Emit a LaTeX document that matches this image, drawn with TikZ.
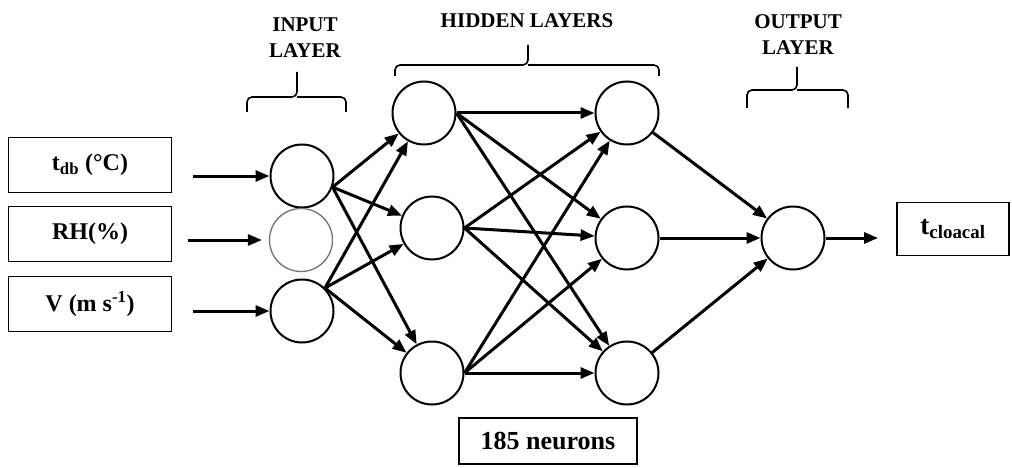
\documentclass[tikz,border=0pt]{standalone}
\usepackage{fontspec}
\setmainfont{Liberation Serif}
\usetikzlibrary{arrows.meta}
\tikzset{
  >={Triangle[length=14pt,width=11pt]},
  neuron/.style={circle,draw=#1,line width=2pt,minimum size=63pt,inner sep=0pt},
  neuron/.default=black,
  varbox/.style={draw,line width=1.8pt,minimum width=#1,minimum height=55pt,
    font=\bfseries\fontsize{24}{27}\selectfont},
  varbox/.default=163pt,
  link/.style={->,line width=3pt},
  brace/.style={line width=1.6pt,rounded corners=5pt},
  tag/.style={font=\bfseries\fontsize{21}{26}\selectfont,align=center},
}
\begin{document}
\begin{tikzpicture}[x=1pt,y=-1pt]
  \useasboundingbox (0,0) rectangle (1012,468);
  % inputs
  \node[varbox] (tdb) at (90,165) {t\textsubscript{db} (°C)};
  \node[varbox] (rh) at (90,234) {RH(\%)};
  \node[varbox] (vel) at (90,304) {V (m s\textsuperscript{-1})};
  \coordinate (s1) at (193,176);
  \coordinate (s2) at (188,240);
  \coordinate (s3) at (193,311);
  % neurons
  \node[neuron] (in1) at (302,176) {};
  \node[neuron=black!55,line width=1.3pt] (in2) at (301,240) {};
  \node[neuron] (in3) at (302,311) {};
  \node[neuron] (ha1) at (424,113) {};
  \node[neuron] (ha2) at (432,228) {};
  \node[neuron] (ha3) at (432,373) {};
  \node[neuron] (hb1) at (627,113) {};
  \node[neuron] (hb2) at (627,238) {};
  \node[neuron] (hb3) at (627,373) {};
  \node[neuron] (out) at (793,238) {};
  \coordinate (res) at (878,238);
  \node[varbox=112pt,minimum height=53pt,font=\bfseries\fontsize{27}{28}\selectfont] (tcl) at (953,229) {t\textsubscript{cloacal}};
  \node[varbox=178pt,minimum height=46pt,font=\bfseries\fontsize{26}{28}\selectfont] (nn) at (548,441) {185 neurons};
  % connections
  \draw[link] (s1) -- (in1.west);
  \draw[link,shorten >=7pt] (s2) -- (in2.west);
  \draw[link] (s3) -- (in3.west);
  \foreach \s/\a in {in1/-20,in3/45}
    \foreach \t in {ha1,ha2,ha3} \draw[link] (\s.\a) -- (\t);
  \foreach \s in {ha1,ha2,ha3}
    \foreach \t in {hb1,hb2,hb3} \draw[link] (\s.east) -- (\t);
  \foreach \s in {hb1,hb2,hb3} \draw[link] (\s) -- (out);
  \draw[link] (out) -- (res);
  % braces and layer names
  \draw[brace] (247,112) |- (297,97) -- (297,72);
  \draw[brace] (346,112) |- (297,97);
  \draw[brace] (395,76) |- (528,65) -- (528,45);
  \draw[brace] (659,76) |- (528,65);
  \draw[brace] (747,108) |- (797,90) -- (797,67);
  \draw[brace] (848,108) |- (797,90);
  \node[tag] (lin) at (305,38) {INPUT\\LAYER};
  \node[tag] (lhid) at (527,21) {HIDDEN LAYERS};
  \node[tag] (lout) at (798,35) {OUTPUT\\LAYER};
\end{tikzpicture}
\end{document}
